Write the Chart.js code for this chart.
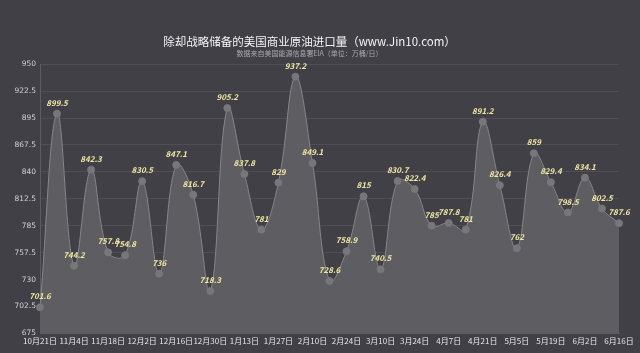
<!DOCTYPE html>
<html>
<head>
<meta charset="utf-8">
<script src="https://cdn.jsdelivr.net/npm/chart.js@4/dist/chart.umd.min.js"></script>
<style>
  html, body { margin: 0; padding: 0; background: #414047; }
  #wrap { position: relative; width: 640px; height: 353px; }
</style>
</head>
<body>
<div id="wrap"><canvas id="chart" width="640" height="353"></canvas></div>
<script>
// 周度日期
const dates = ["10月21日", "10月28日", "11月4日", "11月11日", "11月18日", "11月25日", "12月2日", "12月9日",
    "12月16日", "12月23日", "12月30日", "1月6日", "1月13日", "1月20日", "1月27日", "2月3日", "2月10日",
    "2月17日", "2月24日", "3月3日", "3月10日", "3月17日", "3月24日", "3月31日", "4月7日", "4月14日",
    "4月21日", "4月28日", "5月5日", "5月12日", "5月19日", "5月26日", "6月2日", "6月9日", "6月16日"];

// 进口量（万桶/日）
const imports = [701.6, 899.5, 744.2, 842.3, 757.8, 754.8, 830.5, 736, 847.1, 816.7, 718.3, 905.2,
    837.8, 781, 829, 937.2, 849.1, 728.6, 758.9, 815, 740.5, 830.7, 822.4, 785, 787.8, 781, 891.2,
    826.4, 762, 859, 829.4, 798.5, 834.1, 802.5, 787.6];

const yTicks = [675, 702.5, 730, 757.5, 785, 812.5, 840, 867.5, 895, 922.5, 950];

// 数据标签
const valueLabels = {
    id: "valueLabels",
    afterDatasetsDraw(chart) {
        const ctx = chart.ctx;
        const meta = chart.getDatasetMeta(0);
        ctx.save();
        ctx.font = "italic bold 8px 'Noto Sans CJK SC', 'DejaVu Sans', sans-serif";
        ctx.fillStyle = "#efe7a2";
        ctx.textAlign = "center";
        ctx.textBaseline = "middle";
        meta.data.forEach((pt, i) => {
            ctx.fillText(String(imports[i]), pt.x, pt.y - 11);
        });
        ctx.restore();
    }
};

new Chart(document.getElementById("chart"), {
    type: "line",
    data: {
        labels: dates,
        datasets: [{
            data: imports,
            borderColor: "#86868a",
            borderWidth: 1,
            backgroundColor: "#5e5e62",
            fill: "origin",
            tension: 0.4,
            pointRadius: 3.5,
            pointBackgroundColor: "#77777b",
            pointBorderColor: "#77777b"
        }]
    },
    options: {
        responsive: false,
        animation: false,
        layout: { padding: { left: 0, right: 21, top: 0, bottom: 4 } },
        plugins: {
            legend: { display: false },
            tooltip: { enabled: false },
            title: {
                display: true,
                text: "除却战略储备的美国商业原油进口量（www.Jin10.com）",
                color: "#f4f4f4",
                font: { family: "'Noto Sans CJK SC', sans-serif", size: 11.5, weight: "normal" },
                padding: { top: 35, bottom: 0 }
            },
            subtitle: {
                display: true,
                text: "数据来自美国能源信息署EIA（单位：万桶/日）",
                color: "#a8a8ac",
                font: { family: "'Noto Sans CJK SC', sans-serif", size: 7 },
                padding: { top: 0, bottom: 7 }
            }
        },
        scales: {
            x: {
                offset: false,
                grid: { display: false, drawTicks: false },
                border: { color: "#5c5b62" },
                ticks: {
                    color: "#e6e6e6",
                    autoSkip: false,
                    maxRotation: 0,
                    padding: 3,
                    font: { family: "'Noto Sans CJK SC', sans-serif", size: 8 },
                    callback: (v, i) => (i % 2 === 0 ? dates[i] : "")
                }
            },
            y: {
                min: 675,
                max: 950,
                afterBuildTicks: axis => { axis.ticks = yTicks.map(v => ({ value: v })); },
                grid: { color: "#4f4e55", drawTicks: false },
                border: { color: "#5c5b62" },
                ticks: {
                    color: "#d0d0d0",
                    padding: 4,
                    font: { family: "'DejaVu Sans', sans-serif", size: 7.5 }
                },
                afterFit: axis => { axis.width = 40; }
            }
        }
    },
    plugins: [valueLabels]
});
</script>
</body>
</html>
